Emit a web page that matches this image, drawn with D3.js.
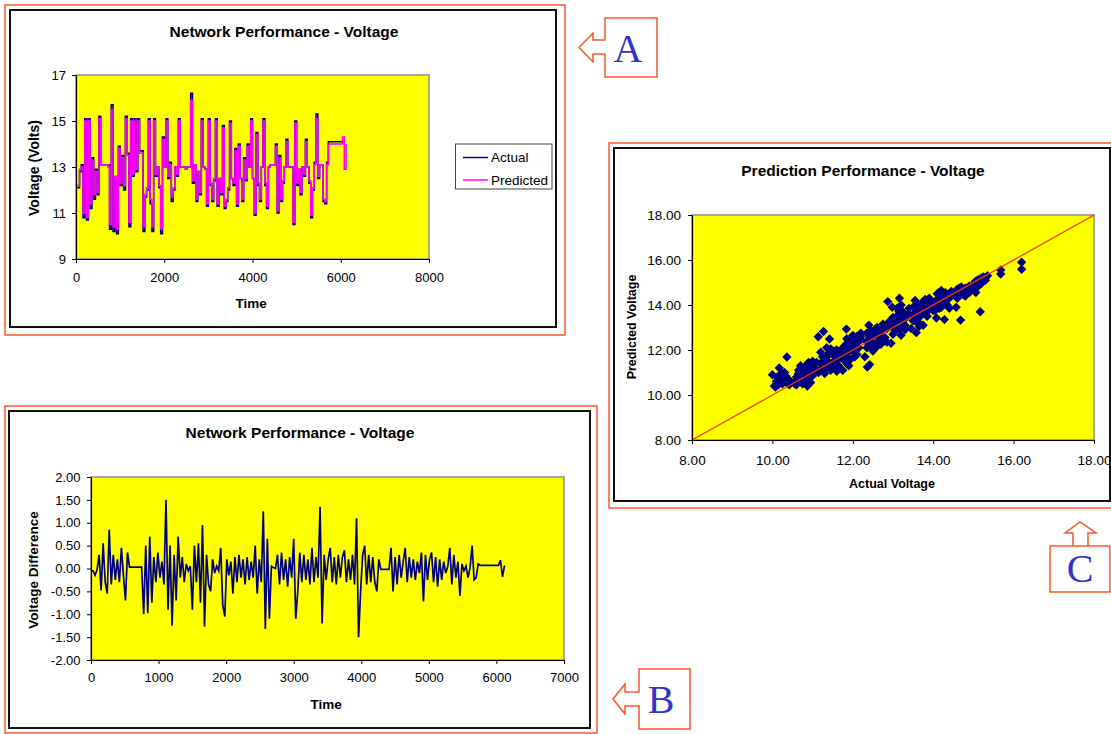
<!DOCTYPE html>
<html>
<head>
<meta charset="utf-8">
<script src="https://cdn.jsdelivr.net/npm/d3@7"></script>
<style>
  body { margin: 0; background: #fff; }
  svg text { font-family: "Liberation Sans", Arial, sans-serif; }
</style>
</head>
<body>
<div id="figure"></div>
<script>
// ---- data ----
// chart A : voltage, one sample every 40 time units
var sampleStepA = 40;
var voltageActualA = [
  12.1, 12.1, 12.8, 13.1, 10.8, 15.1, 10.7, 15.1, 11.2, 13.4,
  11.6, 12.9, 11.8, 15.2, 13.1, 13.1, 13.1, 13.1, 13.1, 10.3,
  15.7, 10.2, 12.5, 10.1, 13.9, 12.2, 13.5, 12.0, 15.2, 13.6,
  10.4, 15.1, 12.6, 15.1, 12.8, 15.1, 13.7, 13.7, 10.2, 11.7,
  12.0, 15.1, 11.4, 10.2, 15.1, 12.6, 13.0, 12.1, 10.1, 14.3,
  13.0, 15.1, 12.5, 13.2, 11.5, 12.0, 13.0, 12.6, 15.1, 13.0,
  13.0, 13.0, 12.9, 13.0, 13.0, 16.2, 12.3, 13.1, 11.5, 12.8,
  11.8, 15.1, 13.0, 12.9, 11.3, 15.1, 12.2, 11.5, 12.4, 15.1,
  11.3, 12.5, 11.8, 14.8, 11.2, 11.5, 12.0, 15.0, 12.5, 12.2,
  13.8, 11.3, 14.0, 12.5, 11.5, 13.4, 12.4, 14.0, 13.0, 15.1,
  12.5, 10.9, 14.5, 12.2, 11.5, 13.0, 15.1, 12.2, 11.2, 13.0,
  13.1, 13.1, 13.1, 14.0, 11.0, 13.5, 11.5, 12.3, 13.0, 14.2,
  13.0, 13.0, 13.0, 10.5, 15.0, 12.2, 12.9, 11.8, 13.0, 12.6,
  14.2, 13.0, 12.3, 10.8, 12.0, 13.2, 15.3, 12.5, 13.1, 13.1,
  11.5, 11.4, 13.2, 14.1, 14.1, 14.1, 14.1, 14.1, 14.1, 14.1,
  14.1, 14.1, 14.1
];
var voltagePredictedA = [
  12.2, 12.2, 12.9, 13.0, 11.0, 15.0, 10.8, 15.0, 11.4, 13.3,
  11.8, 12.8, 11.9, 15.1, 13.1, 13.1, 13.1, 13.1, 13.0, 10.5,
  15.5, 10.4, 12.6, 10.3, 13.8, 12.3, 13.4, 12.2, 15.1, 13.5,
  10.6, 15.0, 12.7, 15.0, 12.9, 15.0, 13.6, 13.6, 10.4, 11.8,
  12.1, 15.0, 11.6, 10.4, 15.0, 12.7, 13.0, 12.2, 10.3, 14.2,
  13.0, 15.0, 12.6, 13.1, 11.7, 12.1, 13.0, 12.7, 15.0, 13.0,
  13.0, 13.0, 12.9, 13.0, 13.0, 15.9, 12.4, 13.1, 11.6, 12.8,
  11.9, 15.0, 13.0, 12.9, 11.4, 15.0, 12.3, 11.6, 12.5, 15.0,
  11.4, 12.5, 11.9, 14.7, 11.3, 11.6, 12.1, 14.9, 12.5, 12.3,
  13.7, 11.4, 13.9, 12.5, 11.6, 13.3, 12.5, 13.9, 13.0, 15.0,
  12.5, 11.0, 14.4, 12.3, 11.6, 13.0, 15.0, 12.3, 11.3, 13.0,
  13.1, 13.1, 13.1, 13.9, 11.1, 13.4, 11.6, 12.4, 13.0, 14.1,
  13.0, 13.0, 13.0, 10.6, 14.9, 12.3, 12.9, 11.9, 13.0, 12.7,
  14.1, 13.0, 12.4, 10.9, 12.1, 13.1, 15.1, 12.6, 13.1, 13.1,
  11.6, 11.5, 13.1, 14.0, 14.0, 14.0, 14.0, 14.0, 14.0, 14.0,
  14.0, 14.3, 12.9, 14.0
];
var seriesNamesA = ["Actual", "Predicted"];
var yTicksA = [9, 11, 13, 15, 17];
var xTicksA = [0, 2000, 4000, 6000, 8000];

// chart B : voltage difference, one sample every 30 time units
var sampleStepB = 30;
var voltageDiffB = [
  -0.04, -0.05, -0.15, -0.03, 0.30, -0.48, 0.55, -0.30, -0.55, 0.85,
  -0.35, 0.30, -0.25, 0.20, -0.30, 0.45, -0.15, -0.70, 0.35, 0.03,
  0.03, 0.03, 0.03, 0.03, 0.03, 0.03, -1.00, 0.50, -0.98, 0.70,
  -0.75, 0.25, -0.30, 0.35, -0.20, 0.15, -0.35, 1.50, -0.90, 0.50,
  -1.25, 0.30, -0.70, 0.70, -0.20, 0.25, -0.30, 0.10, -0.05, 0.05,
  -0.90, 0.50, -0.30, 0.55, -0.75, 0.95, -1.27, 0.30, -0.35, -0.50,
  0.20, -0.10, 0.05, -0.05, 0.45, -0.80, -1.05, 0.20, -0.15, 0.15,
  -0.55, 0.25, -0.30, 0.30, -0.20, 0.20, -0.35, 0.25, -0.25, 0.15,
  -0.20, 0.50, -0.55, 0.20, -0.30, 1.25, -1.32, 0.65, -1.10, 0.05,
  0.02, 0.00, 0.30, -0.35, 0.35, -0.25, 0.20, -0.40, 0.25, -0.20,
  0.65, -1.10, -0.50, 0.35, -0.30, 0.30, -0.25, 0.20, -0.35, 0.45,
  -0.30, 0.25, -0.20, 1.35, -1.20, 0.30, -0.25, 0.20, 0.45, -0.30,
  0.25, -0.35, 0.30, -0.20, 0.25, 0.40, -0.30, 0.20, -0.25, 0.30,
  -0.35, 1.10, -1.50, -0.50, 0.30, 0.50, -0.35, 0.30, -0.30, 0.25,
  -0.30, -0.50, 0.20, -0.02, -0.02, -0.02, -0.02, -0.02, 0.45, -0.50,
  0.25, -0.35, 0.30, -0.20, 0.15, 0.45, -0.30, 0.25, -0.20, 0.20,
  -0.25, 0.15, -0.10, 0.35, -0.72, 0.30, -0.25, 0.20, 0.35, -0.30,
  0.25, -0.40, 0.20, -0.25, 0.15, -0.10, 0.05, 0.45, -0.35, 0.30,
  -0.20, 0.15, -0.60, 0.10, -0.05, 0.05, -0.20, 0.02, 0.50, -0.25,
  -0.20, 0.10, 0.07, 0.07, 0.07, 0.07, 0.07, 0.07, 0.07, 0.07,
  0.07, 0.07, 0.18, -0.18, 0.07
];
var yTicksB = [-2, -1.5, -1, -0.5, 0, 0.5, 1, 1.5, 2];
var xTicksB = [0, 1000, 2000, 3000, 4000, 5000, 6000, 7000];

// chart C : actual vs predicted scatter
var scatterActual = [
  10.05, 10.1, 10.15, 10.2, 10.25, 10.3, 10.35, 10.4, 10.45, 10.0, 10.17, 10.3, 10.42, 10.08, 10.36, 10.12, 10.22, 10.33,
  10.55, 10.6, 10.65, 10.7, 10.75, 10.8, 10.85, 10.9, 10.95, 11.0, 11.05, 11.1, 10.7, 10.6, 10.95, 11.0, 10.87, 10.8, 10.65, 10.9,
  11.15, 11.2, 11.25, 11.3, 11.35, 11.4, 11.45, 11.5, 11.55, 11.6, 11.65, 11.7, 11.2, 11.45, 11.6, 11.7, 11.3, 11.14, 11.27, 11.42, 11.35, 11.5,
  11.75, 11.8, 11.85, 11.9, 11.95, 12.0, 12.05, 12.1, 12.15, 12.2, 11.8, 11.9, 12.0, 12.1, 12.2, 11.85, 11.84, 12.05, 11.95,
  12.3, 12.35, 12.4, 12.45, 12.5, 12.55, 12.6, 12.65, 12.7, 12.75, 12.8, 12.85, 12.9, 12.4, 12.36, 12.42, 12.5, 12.6, 12.85, 12.35, 12.7,
  12.95, 13.0, 13.05, 13.1, 13.15, 13.2, 13.25, 13.3, 13.35, 13.4, 13.0, 13.2, 12.87, 13.16, 13.2, 13.1, 13.3, 12.98,
  13.45, 13.5, 13.55, 13.6, 13.65, 13.7, 13.75, 13.8, 13.85, 13.9, 13.95, 14.0, 13.58, 13.5, 13.75, 13.9, 13.55, 13.65, 13.8,
  14.05, 14.1, 14.15, 14.2, 14.25, 14.3, 14.35, 14.4, 14.45, 14.1, 14.2, 14.4, 14.08, 14.28, 14.3, 14.15,
  14.55, 14.6, 14.65, 14.7, 14.75, 14.8, 14.85, 14.9, 14.95, 14.6, 14.8, 14.57, 14.68, 14.7, 14.9,
  15.0, 15.05, 15.1, 15.15, 15.2, 15.25, 15.3, 15.35, 15.06, 15.17, 15.1, 15.2, 15.3,
  15.68, 15.68, 16.2, 16.2,
  10.1, 10.2, 10.3, 10.4, 10.25, 10.15,
  10.6, 10.7, 10.8, 10.9, 11.0, 10.75, 11.05, 10.85, 10.65,
  11.2, 11.3, 11.4, 11.5, 11.6, 11.25, 11.55, 11.65, 11.35,
  11.8, 11.9, 12.0, 12.1, 12.2, 11.85, 12.15, 12.05, 11.95,
  12.35, 12.45, 12.55, 12.65, 12.75, 12.85, 12.5, 12.7, 12.6, 12.4,
  13.0, 13.1, 13.2, 13.3, 13.4, 13.05, 13.25, 13.15,
  13.5, 13.6, 13.7, 13.8, 13.9, 13.65, 13.75, 13.85, 13.55, 13.95,
  14.1, 14.2, 14.3, 14.4, 14.15, 14.25,
  14.6, 14.7, 14.8, 14.9, 14.65,
  15.1, 15.2, 15.05
];
var scatterPredicted = [
  10.4, 10.6, 10.45, 10.75, 10.5, 10.65, 10.55, 10.7, 10.6, 10.9, 11.2, 11.0, 10.45, 10.35, 11.69, 10.8, 10.95, 10.85,
  10.5, 10.8, 11.1, 10.6, 10.95, 11.25, 10.7, 11.0, 11.35, 10.85, 11.2, 11.45, 11.3, 10.45, 10.55, 11.5, 10.4, 10.55, 10.9, 11.45,
  11.0, 11.4, 11.7, 11.2, 11.55, 11.85, 11.1, 11.45, 11.75, 12.0, 11.3, 11.65, 11.9, 12.05, 11.05, 12.0, 10.95, 12.59, 12.82, 12.49, 12.1, 11.25,
  11.1, 11.5, 11.85, 12.2, 11.6, 11.95, 12.3, 12.6, 12.1, 12.45, 12.2, 11.3, 12.65, 11.8, 12.75, 12.5, 12.93, 11.7, 12.4,
  11.7, 12.1, 12.5, 12.85, 12.3, 12.65, 13.0, 12.4, 12.8, 13.15, 12.55, 12.95, 13.25, 13.1, 11.24, 11.35, 11.95, 12.15, 12.35, 12.75, 12.25,
  12.3, 12.7, 13.1, 13.5, 12.9, 13.3, 13.7, 13.1, 13.5, 13.85, 13.45, 12.65, 14.15, 14.3, 14.0, 13.85, 12.9, 13.9,
  12.95, 13.3, 13.65, 14.0, 13.2, 13.55, 13.9, 14.25, 13.5, 13.85, 14.2, 13.75, 12.77, 13.9, 13.1, 14.3, 14.2, 13.05, 13.6,
  13.75, 14.05, 14.35, 13.9, 14.2, 14.55, 14.0, 14.3, 14.6, 14.5, 14.65, 13.85, 13.42, 13.35, 14.4, 13.85,
  14.4, 14.7, 14.5, 14.8, 14.45, 14.75, 14.6, 14.85, 14.7, 14.3, 14.4, 13.9, 13.33, 14.6, 14.55,
  14.9, 15.05, 15.0, 15.15, 15.1, 15.25, 15.2, 15.3, 14.55, 13.7, 14.8, 14.95, 15.1,
  15.56, 15.38, 15.9, 15.59,
  10.5, 10.6, 10.8, 10.55, 10.9, 10.7,
  10.65, 11.0, 10.85, 11.2, 11.05, 10.5, 11.4, 11.1, 10.95,
  11.15, 11.5, 11.3, 11.8, 11.55, 11.35, 11.95, 11.85, 11.7,
  11.75, 12.0, 12.2, 12.35, 12.6, 11.6, 12.5, 12.05, 12.35,
  12.35, 12.6, 12.9, 12.65, 12.95, 13.15, 12.1, 12.5, 12.8, 12.25,
  13.0, 13.25, 13.55, 13.4, 13.6, 12.85, 13.05, 13.7,
  13.55, 13.75, 13.95, 13.8, 14.05, 13.45, 14.15, 13.7, 13.3, 13.95,
  14.25, 14.4, 14.3, 14.5, 14.55, 14.0,
  14.55, 14.65, 14.6, 14.75, 14.75,
  15.1, 15.2, 14.95
];
var ticksC = [8, 10, 12, 14, 16, 18];

// ---- drawing ----
var frameRed = "#ff5533",
    plotYellow = "#ffff00",
    navy = "#000080",
    magenta = "#ff00ff",
    letterBlue = "#3333cc";

var svg = d3.select("#figure")
  .append("svg")
    .attr("width", 1111)
    .attr("height", 734);

function panelFrame(outer, inner) {
  svg.append("rect")
    .attr("x", outer[0]).attr("y", outer[1])
    .attr("width", outer[2]).attr("height", outer[3])
    .attr("fill", "none").attr("stroke", frameRed).attr("stroke-width", 1.5);
  svg.append("rect")
    .attr("x", inner[0]).attr("y", inner[1])
    .attr("width", inner[2]).attr("height", inner[3])
    .attr("fill", "#fff").attr("stroke", "#111").attr("stroke-width", 2);
}

function plotBackground(x, y) {
  svg.append("rect")
    .attr("x", x.range()[0]).attr("y", y.range()[1])
    .attr("width", x.range()[1] - x.range()[0])
    .attr("height", y.range()[0] - y.range()[1])
    .attr("fill", plotYellow)
    .attr("stroke", "#8c8c8c")
    .attr("stroke-width", 1.5);
}

function drawAxes(x, y, xTicks, yTicks, xFmt, yFmt, fontSize, padX, padY) {
  var gx = svg.append("g")
    .attr("transform", "translate(0," + y.range()[0] + ")")
    .call(d3.axisBottom(x).tickValues(xTicks).tickFormat(xFmt)
      .tickSize(4).tickSizeOuter(0).tickPadding(padX));
  var gy = svg.append("g")
    .attr("transform", "translate(" + x.range()[0] + ",0)")
    .call(d3.axisLeft(y).tickValues(yTicks).tickFormat(yFmt)
      .tickSize(4).tickSizeOuter(0).tickPadding(padY));
  [gx, gy].forEach(function(g) {
    g.select(".domain").attr("stroke", "#000").attr("stroke-width", 1.2);
    g.selectAll(".tick line").attr("stroke", "#000");
    g.selectAll(".tick text").style("font-size", fontSize + "px").attr("fill", "#000");
  });
}

function label(txt, x, y, size, bold, rotate) {
  svg.append("text")
    .attr("transform", "translate(" + x + "," + y + ")" + (rotate ? " rotate(-90)" : ""))
    .attr("text-anchor", "middle")
    .attr("dy", rotate ? "0.35em" : 0)
    .style("font-size", size + "px")
    .style("font-weight", bold ? "bold" : "normal")
    .attr("fill", "#000")
    .text(txt);
}

// callout: box with an arrow, letter inside
function callout(path, letter, lx, ly) {
  svg.append("path")
    .attr("d", path)
    .attr("fill", "#fff")
    .attr("stroke", frameRed)
    .attr("stroke-width", 1.5);
  svg.append("text")
    .attr("x", lx).attr("y", ly)
    .attr("text-anchor", "middle")
    .style("font-family", "'Liberation Serif', 'Times New Roman', serif")
    .style("font-size", "40px")
    .attr("fill", letterBlue)
    .text(letter);
}

var intFmt = function(d) { return d; };
var twoDec = function(d) { return d.toFixed(2); };

// ===== Chart A =====
panelFrame([5, 5, 560, 330], [10, 10, 546, 317]);
var xA = d3.scaleLinear().domain([0, 8000]).range([76, 429]);
var yA = d3.scaleLinear().domain([9, 17]).range([259, 75]);
plotBackground(xA, yA);

var lineA = d3.line()
  .curve(d3.curveStepAfter)
  .x(function(d, i) { return xA(i * sampleStepA); })
  .y(function(d) { return yA(d); });

svg.append("path").datum(voltageActualA)
  .attr("d", lineA).attr("fill", "none")
  .attr("stroke", navy).attr("stroke-width", 1.6);
svg.append("path").datum(voltagePredictedA)
  .attr("d", lineA).attr("fill", "none")
  .attr("stroke", magenta).attr("stroke-width", 1.5);

drawAxes(xA, yA, xTicksA, yTicksA, intFmt, intFmt, 13, 10, 6);
label("Network Performance - Voltage", 284, 37, 15.5, true);
label("Time", 251, 308, 13.5, true);
label("Voltage (Volts)", 34, 168, 14, true, true);

// legend
var legendColor = d3.scaleOrdinal().domain(seriesNamesA).range([navy, magenta]);
svg.append("rect")
  .attr("x", 455.5).attr("y", 144)
  .attr("width", 96.5).attr("height", 45)
  .attr("fill", "#fff").attr("stroke", "#444");
var legendRow = svg.selectAll(".legendA")
  .data(seriesNamesA)
  .enter()
  .append("g")
    .attr("transform", function(d, i) { return "translate(463," + (157.5 + i * 22.5) + ")"; });
legendRow.append("line")
  .attr("x1", 0).attr("x2", 25)
  .attr("stroke", function(d) { return legendColor(d); })
  .attr("stroke-width", 1.5);
legendRow.append("text")
  .attr("x", 28).attr("dy", "0.35em")
  .style("font-size", "13.5px")
  .text(function(d) { return d; });

// ===== Chart B =====
panelFrame([5, 406, 592, 327], [9, 411, 581, 317]);
var xB = d3.scaleLinear().domain([0, 7000]).range([91, 564]);
var yB = d3.scaleLinear().domain([-2, 2]).range([660, 477]);
plotBackground(xB, yB);

svg.append("path").datum(voltageDiffB)
  .attr("d", d3.line()
    .x(function(d, i) { return xB(i * sampleStepB); })
    .y(function(d) { return yB(d); }))
  .attr("fill", "none")
  .attr("stroke", navy)
  .attr("stroke-width", 1.7);

drawAxes(xB, yB, xTicksB, yTicksB, intFmt, twoDec, 13, 9, 6.5);
label("Network Performance - Voltage", 300, 438, 15.5, true);
label("Time", 326, 709, 13.5, true);
label("Voltage Difference", 33, 570, 13.5, true, true);

// ===== Chart C =====
panelFrame([609, 143, 520, 365], [614, 148, 496, 353]);
var xC = d3.scaleLinear().domain([8, 18]).range([692, 1094]);
var yC = d3.scaleLinear().domain([8, 18]).range([440, 215]);
plotBackground(xC, yC);

var scatterData = scatterActual.map(function(a, i) { return {actual: a, predicted: scatterPredicted[i]}; });
svg.append("g").selectAll("path")
  .data(scatterData)
  .enter()
  .append("path")
    .attr("d", d3.symbol(d3.symbolSquare, 44))
    .attr("transform", function(d) { return "translate(" + xC(d.actual) + "," + yC(d.predicted) + ") rotate(45)"; })
    .attr("fill", navy);

// ideal prediction line
svg.append("line")
  .attr("x1", xC(8)).attr("y1", yC(8))
  .attr("x2", xC(18)).attr("y2", yC(18))
  .attr("stroke", "#ff3300")
  .attr("stroke-width", 1.2);

drawAxes(xC, yC, ticksC, ticksC, twoDec, twoDec, 13.5, 11, 7);
label("Prediction Performance - Voltage", 863, 176, 15.5, true);
label("Actual Voltage", 892, 488, 12.5, true);
label("Predicted Voltage", 632, 327, 12.5, true, true);

// ===== callouts =====
callout("M605,18 H657 V77 H605 V54 H593 V62 L579,47.5 L593,33 V40 H605 Z", "A", 628, 62);
callout("M639,669 H690 V729 H639 V706 H625 V714 L613,699 L625,684 V692 H639 Z", "B", 661, 713);
callout("M1050,546 H1110 V592 H1050 Z M1073,546 V533 H1065 L1080,522 L1096,533 H1088 V546", "C", 1080, 582);
</script>
</body>
</html>
